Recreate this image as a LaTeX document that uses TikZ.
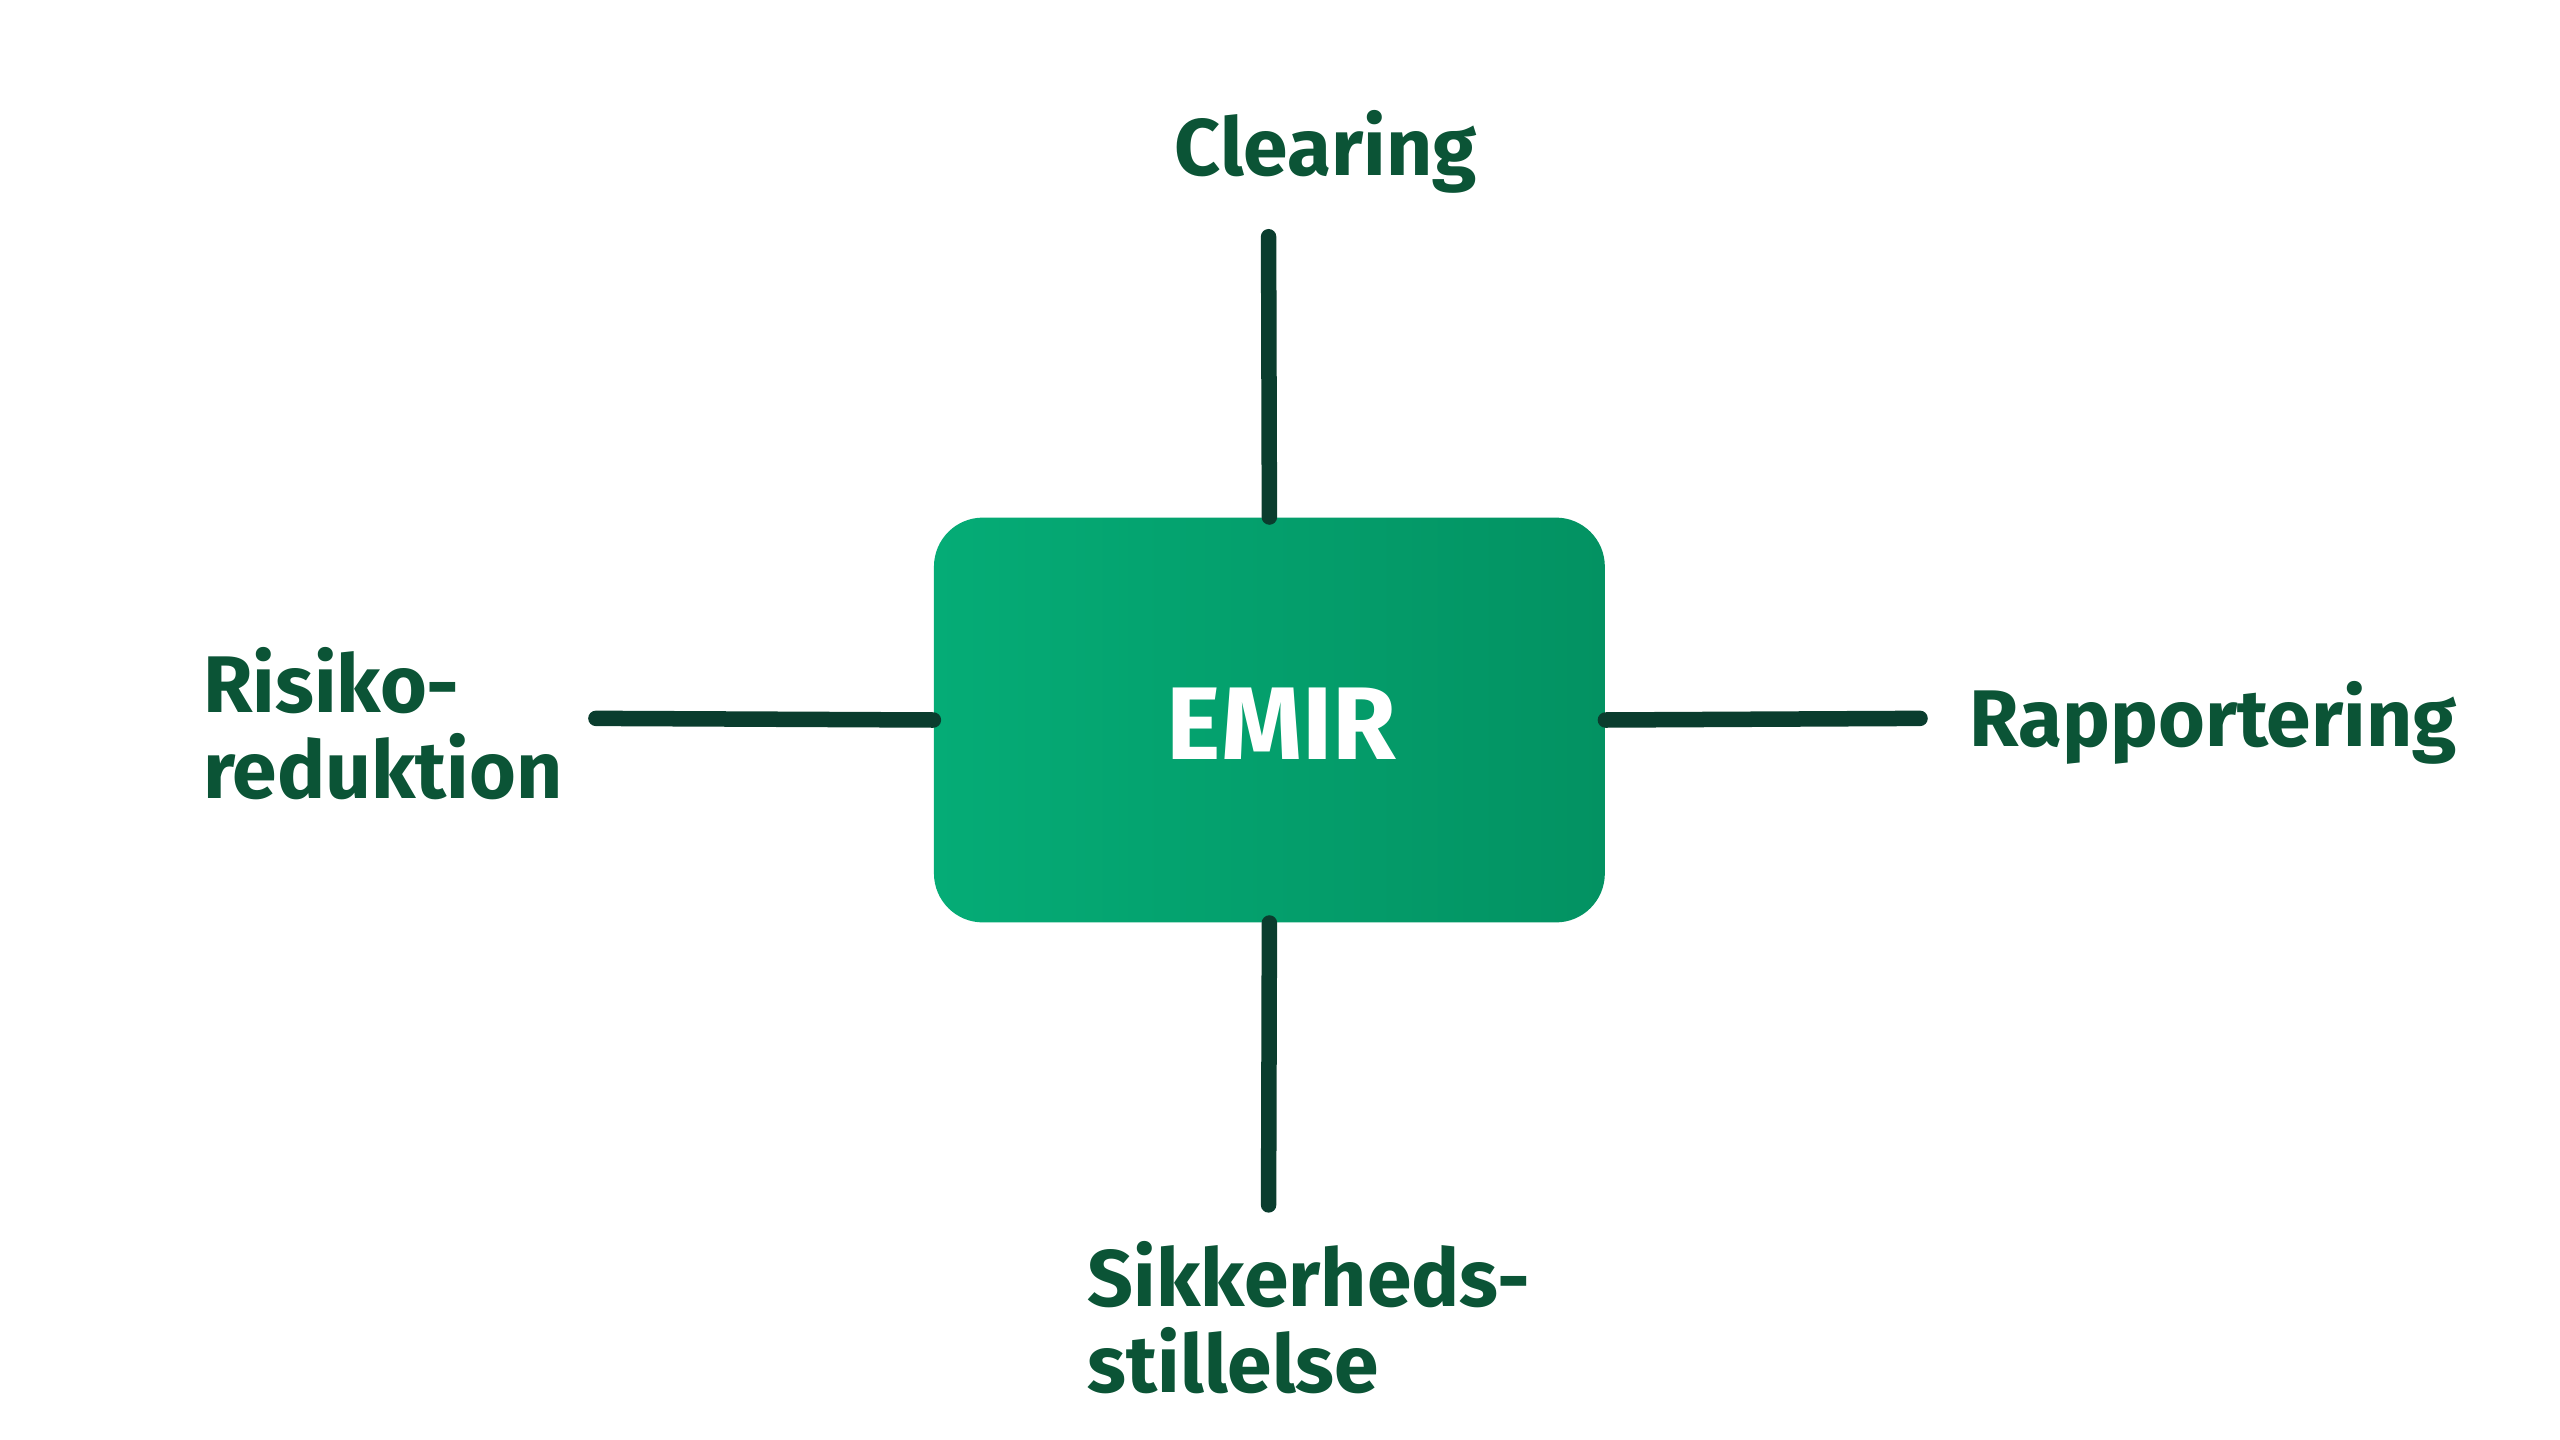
\documentclass[tikz,border=0pt]{standalone}
\usepackage{fontspec}
\setmainfont{Fira Sans}
\definecolor{lineC}{HTML}{0A3D2E}
\definecolor{txtC}{HTML}{0B5436}
\definecolor{boxL}{HTML}{05AC76}
\definecolor{boxR}{HTML}{039262}
\begin{document}
\begin{tikzpicture}[x=0.02cm,y=-0.02cm,
  conn/.style={draw=lineC,line width=0.19cm,line cap=round},
  lbl/.style={text=txtC,font=\fontsize{28}{30}\selectfont\bfseries,inner sep=0pt,align=left}]
\useasboundingbox (0,0) rectangle (1568,882);
\node[draw=none,rounded corners=0.6cm,minimum width=8.22cm,minimum height=4.96cm,
  left color=boxL,right color=boxR,inner sep=0pt] (emir) at (777.5,441) {};
\node[text=white,font=\fontsize{36}{40}\selectfont\bfseries] at (785,443) {EMIR};
\coordinate (t) at (777,145);
\coordinate (b) at (777,738);
\coordinate (l) at (365,440);
\coordinate (r) at (1176,440);
\draw[conn] (t) -- (emir.north);
\draw[conn] (emir.south) -- (b);
\draw[conn] (l) -- (emir.west);
\draw[conn] (emir.east) -- (r);
\node[lbl] (c) at (812,93) {Clearing};
\node[lbl,anchor=west] (rr) at (1206,443) {Rapportering};
\node[lbl,anchor=west] (rk) at (124,443) {Risiko-\\reduktion};
\node[lbl,anchor=west] (s) at (666,807) {Sikkerheds-\\stillelse};
\end{tikzpicture}
\end{document}
